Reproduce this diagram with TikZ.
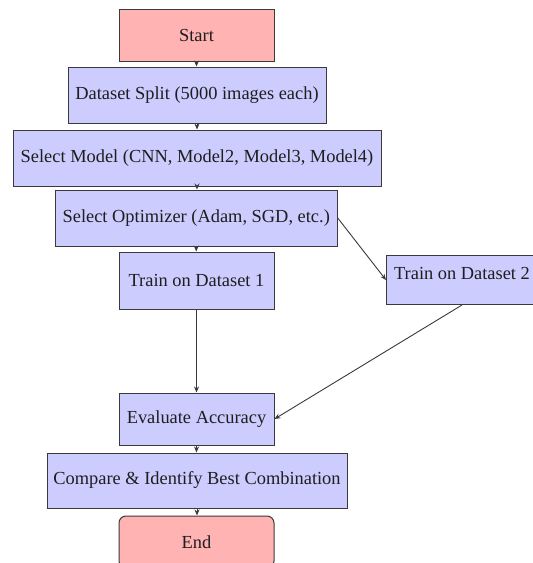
\documentclass[tikz,border=0pt]{standalone}
\usepackage{fontspec}
\setmainfont{Liberation Serif}
\usetikzlibrary{arrows.meta}
\definecolor{pinkfill}{HTML}{FFB3B3}
\definecolor{bluefill}{HTML}{CCCCFF}
\definecolor{edgecol}{HTML}{3A3A3A}
\definecolor{txtcol}{HTML}{1E1E1E}
\begin{document}
\begin{tikzpicture}[x=1pt,y=-1pt,
  box/.style={draw=edgecol,line width=1pt,fill=bluefill,text=txtcol,inner sep=0pt,
    font=\fontsize{18.4}{22}\selectfont,anchor=center},
  term/.style={box,fill=pinkfill},
  conn/.style={draw=edgecol,line width=0.9pt,-{Stealth[length=6pt,width=5pt]}}]
\clip (0,0) rectangle (533,563);
\fill[white] (0,0) rectangle (533,563);
\node[term,minimum width=155pt,minimum height=52pt] (start) at (196.5,35) {Start};
\node[box,minimum width=258pt,minimum height=56pt] (split) at (197,95) {Dataset Split (5000 images each)};
\node[box,minimum width=368pt,minimum height=56pt] (model) at (197,158) {Select Model (CNN, Model2, Model3, Model4)};
\node[box,minimum width=282pt,minimum height=56pt] (opt) at (196.25,218) {Select Optimizer (Adam, SGD, etc.)};
\node[box,minimum width=155pt,minimum height=57pt] (t1) at (196.5,280.5) {Train on Dataset 1};
\node[box,minimum width=151pt,text height=24pt,text depth=25pt,anchor=north west] (t2) at (386,255) {Train on Dataset 2};
\node[box,minimum width=155pt,minimum height=52pt] (eval) at (196.5,419) {Evaluate Accuracy};
\node[box,minimum width=300pt,minimum height=55pt] (cmp) at (197,480.5) {Compare \& Identify Best Combination};
\node[term,rounded corners=7pt,minimum width=155pt,minimum height=52pt] (end) at (196.5,542) {End};
\draw[conn] (start.south) -- (start.south |- split.north);
\draw[conn] (split.south) -- (split.south |- model.north);
\draw[conn] (model.south) -- (model.south |- opt.north);
\draw[conn] (opt.south) -- (opt.south |- t1.north);
\draw[conn] (opt.east) -- (t2.west);
\draw[conn] (t1.south) -- (t1.south |- eval.north);
\draw[conn] (t2.south) -- (eval.east);
\draw[conn] (eval.south) -- (eval.south |- cmp.north);
\draw[conn] (cmp.south) -- (cmp.south |- end.north);
\end{tikzpicture}
\end{document}
